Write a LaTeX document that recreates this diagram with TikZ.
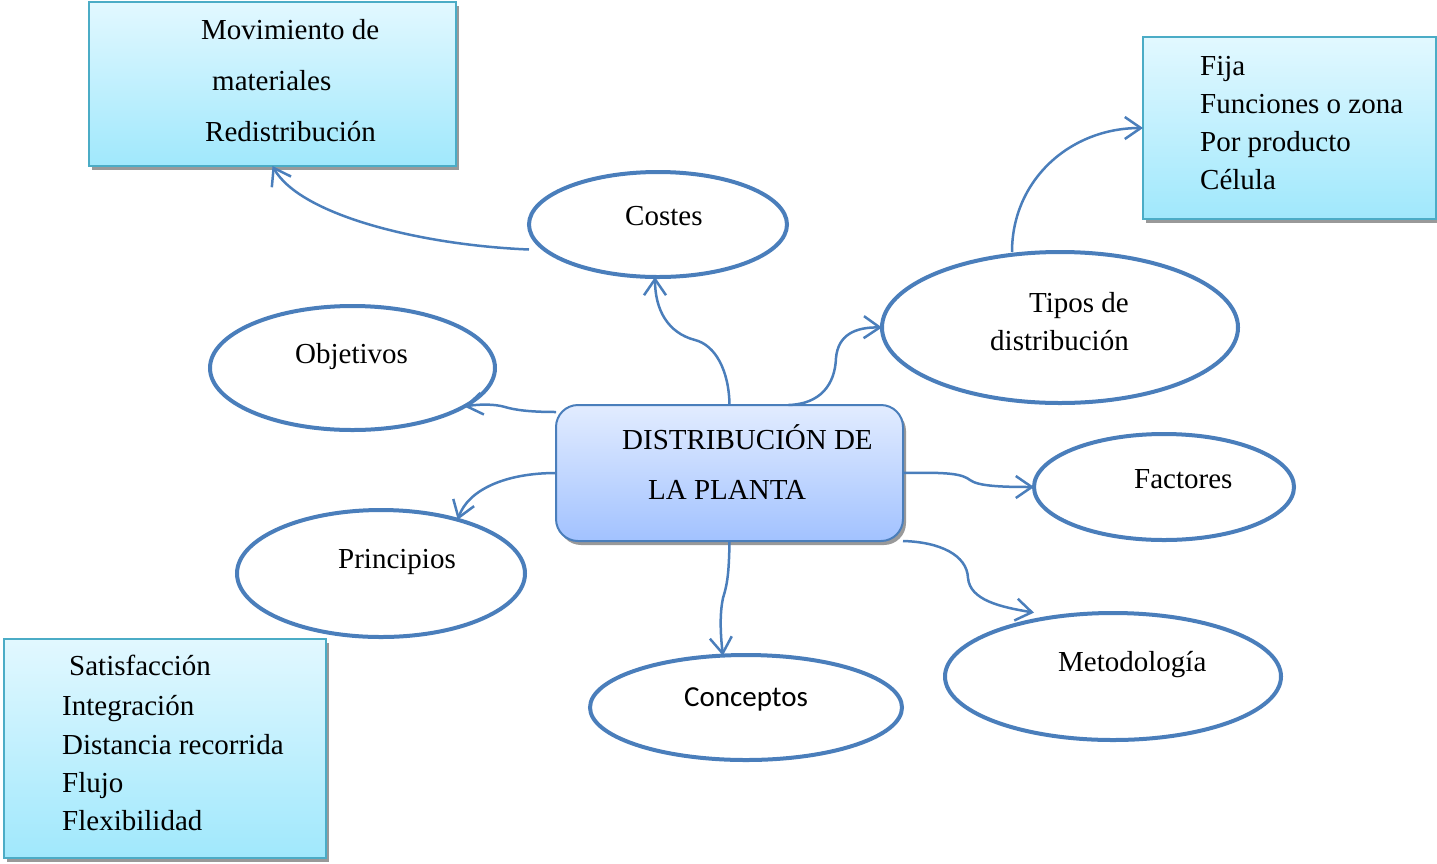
\documentclass[tikz,border=0pt]{standalone}
\usepackage{fontspec}
\setmainfont{Liberation Serif}
\newfontfamily\calib{Carlito}
\usetikzlibrary{arrows.meta,shapes.geometric,shadows}
\definecolor{eblue}{RGB}{74,126,187}
\definecolor{cborder}{RGB}{75,172,198}
\definecolor{ctop}{RGB}{226,248,255}
\definecolor{cbot}{RGB}{160,232,252}
\definecolor{btop}{RGB}{226,236,255}
\definecolor{bbot}{RGB}{162,194,255}
\tikzset{
  ell/.style={draw=eblue, line width=4pt, ellipse, inner sep=0pt, outer sep=0pt, fill=white},
  cyanbox/.style={draw=cborder, line width=2.2pt, rectangle, inner sep=0pt, outer sep=0pt,
    top color=ctop, bottom color=cbot,
    general shadow={fill=black!40, shadow xshift=3pt, shadow yshift=-4pt}},
  centralbox/.style={draw=eblue, line width=2pt, rectangle, rounded corners=22pt, inner sep=0pt, outer sep=0pt,
    top color=btop, bottom color=bbot,
    general shadow={fill=black!40, shadow xshift=3pt, shadow yshift=-4pt}},
  txt/.style={anchor=base west, inner sep=0pt, font=\fontsize{29}{38.5}\selectfont},
  conn/.style={draw=eblue, line width=2.5pt, -{Straight Barb[length=16pt,width=22pt]}},
}
\begin{document}
\begin{tikzpicture}[x=1pt,y=-1pt]
\useasboundingbox (0,0) rectangle (1437,863);

% boxes
\node[cyanbox, minimum width=367, minimum height=164] (movbox) at (272.5,84) {};
\node[cyanbox, minimum width=293, minimum height=182] (fijabox) at (1289.5,128) {};
\node[cyanbox, minimum width=322, minimum height=219] (princbox) at (165,748.5) {};
\node[centralbox, minimum width=347, minimum height=136] (central) at (729.5,473) {};

% ellipses
\node[ell, minimum width=258, minimum height=105] (costes) at (658,224.5) {};
\node[ell, minimum width=285, minimum height=124] (objetivos) at (352.5,368) {};
\node[ell, minimum width=356, minimum height=151] (tipos) at (1060,327.5) {};
\node[ell, minimum width=260, minimum height=106] (factores) at (1164,487) {};
\node[ell, minimum width=288, minimum height=127] (principios) at (381,573.5) {};
\node[ell, minimum width=312, minimum height=105] (conceptos) at (746,707.5) {};
\node[ell, minimum width=336, minimum height=127] (metod) at (1113,676.5) {};

% texts
\node[txt] (t1) at (201,39) {Movimiento de};
\node[txt] (t2) at (212,90) {materiales};
\node[txt] (t3) at (205,141) {Redistribución};

\node[txt] (f1) at (1200,75.5) {Fija};
\node[txt] (f2) at (1200,113) {Funciones o zona};
\node[txt] (f3) at (1200,151.5) {Por producto};
\node[txt] (f4) at (1200,189.5) {Célula};

\node[txt] (p1) at (69,675.5) {Satisfacción};
\node[txt] (p2) at (62,715) {Integración};
\node[txt] (p3) at (62,754) {Distancia recorrida};
\node[txt] (p4) at (62,792.5) {Flujo};
\node[txt] (p5) at (62,830.5) {Flexibilidad};

\node[txt] (c1) at (622,449) {DISTRIBUCIÓN DE};
\node[txt] (c2) at (648,499) {LA PLANTA};

\node[txt] (e1) at (625,225) {Costes};
\node[txt] (e2) at (295,363) {Objetivos};
\node[txt] (e3) at (1029,312) {Tipos de};
\node[txt] (e4) at (990,350) {distribución};
\node[txt] (e5) at (1134,488) {Factores};
\node[txt] (e6) at (338,568) {Principios};
\node[txt, font=\calib\fontsize{29}{34}\selectfont] (e7) at (684,706.5) {Conceptos};
\node[txt] (e8) at (1058,671) {Metodología};

% connectors
\draw[conn] (central.north) .. controls (729,370) and (715,345) .. (695,340)
  .. controls (668,333) and (655,310) .. ([xshift=-3pt]costes.south);
\draw[conn] ([xshift=59pt]central.north) .. controls (820,404) and (835,385) .. (836,358)
  .. controls (838,335) and (855,327) .. (tipos.west);
\draw[conn] ([yshift=-7pt]central.north west) .. controls (530,412) and (515,410) .. (505,407)
  .. controls (495,404) and (480,404) .. (objetivos.-19);
\draw[conn] (central.west) .. controls (505,473) and (468,490) .. (principios.35);
\draw[conn] (central.south) .. controls (729,575) and (727,585) .. (723,598)
  .. controls (720,612) and (720,630) .. (conceptos.114);
\draw[conn] (central.east) .. controls (950,472) and (962,474) .. (970,480)
  .. controls (978,486) and (1000,487) .. (factores.west);
\draw[conn] (central.south east) .. controls (940,542) and (967,555) .. (968,578)
  .. controls (970,600) and (1000,607) .. ([shift={(-10,-6)}]metod.140);
\draw[conn] ([yshift=-25pt]costes.west) .. controls (420,245) and (300,215) .. (movbox.south);
\draw[conn] ([xshift=-48pt]tipos.north) .. controls (1012,180) and (1070,128) .. (fijabox.west);
\end{tikzpicture}
\end{document}
